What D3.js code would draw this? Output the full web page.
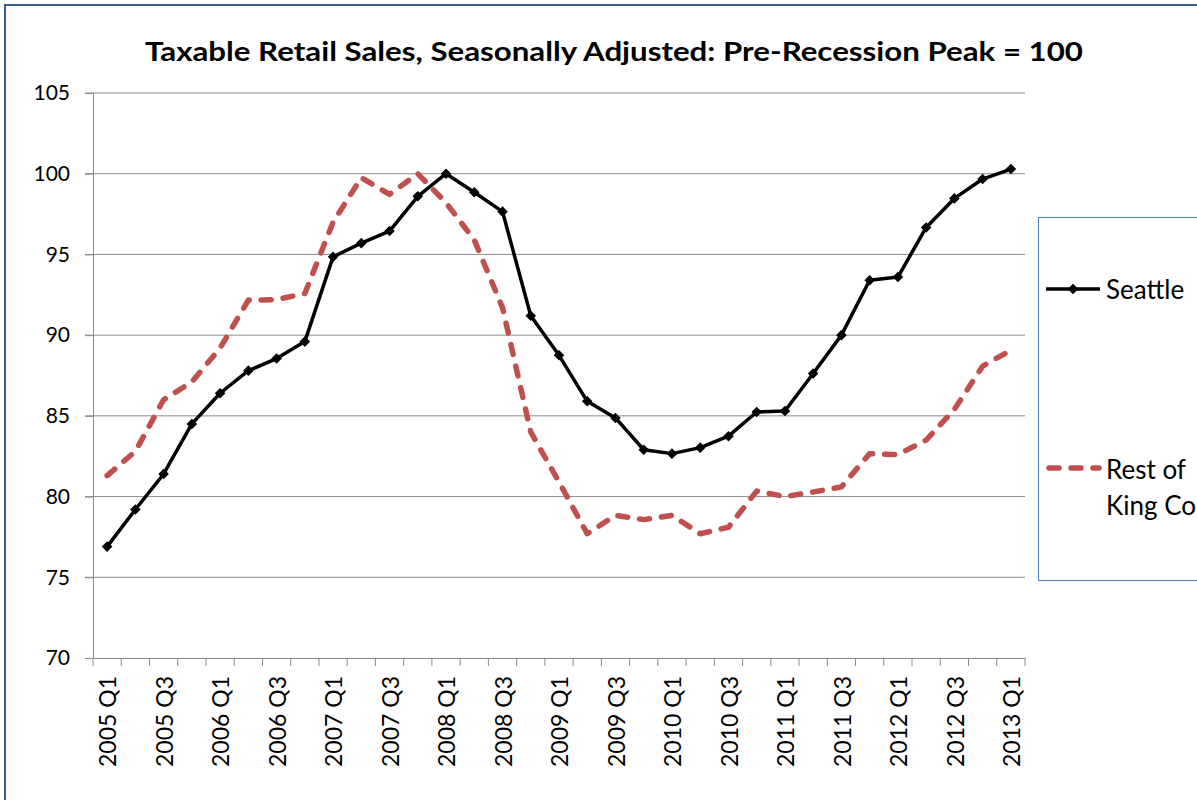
<!DOCTYPE html>
<html>
<head>
<meta charset="utf-8">
<script src="https://cdn.jsdelivr.net/npm/d3@7"></script>
<style>
  html, body { margin: 0; padding: 0; background: #fff; overflow: hidden; }
  svg { display: block; }
</style>
</head>
<body>
<svg id="chart" width="1197" height="800"></svg>
<script>
const quarters = [
  "2005 Q1","2005 Q2","2005 Q3","2005 Q4",
  "2006 Q1","2006 Q2","2006 Q3","2006 Q4",
  "2007 Q1","2007 Q2","2007 Q3","2007 Q4",
  "2008 Q1","2008 Q2","2008 Q3","2008 Q4",
  "2009 Q1","2009 Q2","2009 Q3","2009 Q4",
  "2010 Q1","2010 Q2","2010 Q3","2010 Q4",
  "2011 Q1","2011 Q2","2011 Q3","2011 Q4",
  "2012 Q1","2012 Q2","2012 Q3","2012 Q4",
  "2013 Q1"
];
const seattle = [76.9, 79.2, 81.4, 84.5, 86.4, 87.8, 88.55, 89.6, 94.85, 95.7, 96.45, 98.6,
  100.0, 98.85, 97.65, 91.2, 88.75, 85.9, 84.87, 82.9, 82.66, 83.03, 83.74, 85.24,
  85.3, 87.62, 90.0, 93.4, 93.6, 96.67, 98.47, 99.67, 100.29];
const restOfKing = [81.3, 82.8, 86.0, 87.1, 89.2, 92.17, 92.2, 92.58, 97.0, 99.75, 98.72, 100.0,
  98.2, 95.9, 91.7, 84.0, 80.9, 77.7, 78.84, 78.57, 78.84, 77.7, 78.1, 80.34,
  80.0, 80.28, 80.6, 82.66, 82.6, 83.5, 85.4, 88.08, 89.07];
const yTicks = [70, 75, 80, 85, 90, 95, 100, 105];
const titleText = "Taxable Retail Sales, Seasonally Adjusted: Pre-Recession Peak = 100";
const seriesNames = ["Seattle", ["Rest of", "King County"]];

const svg = d3.select("#chart");
const plotLeft = 93, plotRight = 1025, plotTop = 93, plotBottom = 658;

// chart border
svg.append("path")
  .attr("d", "M5,805 L5,5 L1205,5")
  .attr("fill", "none").attr("stroke", "#3a5f8f").attr("stroke-width", 2);

const x = d3.scaleBand().domain(quarters).range([plotLeft, plotRight]).padding(0);
const y = d3.scaleLinear().domain([70, 105]).range([plotBottom, plotTop]);
const cx = d => x(d) + x.bandwidth() / 2;

// gridlines
svg.append("g").selectAll("line").data(yTicks.filter(t => t !== 70)).join("line")
  .attr("x1", plotLeft - 8).attr("x2", plotRight)
  .attr("y1", d => y(d)).attr("y2", d => y(d))
  .attr("stroke", "#8c8c8c").attr("stroke-width", 1);

// y axis
const yAxis = d3.axisLeft(y).tickValues(yTicks).tickSize(8).tickPadding(15);
const gy = svg.append("g").attr("transform", `translate(${plotLeft},0)`).call(yAxis);
gy.select(".domain").attr("stroke", "#8c8c8c");
gy.selectAll(".tick line").attr("stroke", "#8c8c8c");
gy.selectAll(".tick text")
  .attr("font-family", "Lato, 'Open Sans', sans-serif")
  .attr("font-size", 21).attr("fill", "#000");

// x axis
const xAxis = d3.axisBottom(x).tickSize(0).tickFormat("");
const gx = svg.append("g").attr("transform", `translate(0,${plotBottom})`).call(xAxis);
gx.select(".domain").attr("stroke", "#8c8c8c");
const boundaries = quarters.map(q => x(q)).concat([plotRight]);
svg.append("g").selectAll("line").data(boundaries).join("line")
  .attr("x1", d => d).attr("x2", d => d)
  .attr("y1", plotBottom).attr("y2", plotBottom + 8)
  .attr("stroke", "#8c8c8c").attr("stroke-width", 1);
svg.append("g").selectAll("text").data(quarters.filter((q, i) => i % 2 === 0)).join("text")
  .attr("transform", d => `translate(${cx(d) + 1},676) rotate(-90)`)
  .attr("text-anchor", "end").attr("dy", "0.36em")
  .attr("font-family", "Lato, 'Open Sans', sans-serif")
  .attr("font-size", 23).attr("fill", "#000")
  .text(d => d);

// lines
const line = d3.line().x((d, i) => cx(quarters[i])).y(d => y(d));
svg.append("path").datum(restOfKing)
  .attr("d", line).attr("fill", "none")
  .attr("stroke", "#c0504d").attr("stroke-width", 5.5)
  .attr("stroke-linecap", "round").attr("stroke-linejoin", "round")
  .attr("stroke-dasharray", "10 12");
svg.append("path").datum(seattle)
  .attr("d", line).attr("fill", "none")
  .attr("stroke", "#000").attr("stroke-width", 3.5)
  .attr("stroke-linejoin", "round");
const diamond = d3.symbol().type(d3.symbolSquare).size(56);
svg.append("g").selectAll("path").data(seattle).join("path")
  .attr("transform", (d, i) => `translate(${cx(quarters[i])},${y(d)}) rotate(45)`)
  .attr("d", diamond).attr("fill", "#000");

// title
svg.append("text")
  .attr("x", 614).attr("y", 61).attr("text-anchor", "middle")
  .attr("font-family", "Lato, 'Open Sans', sans-serif")
  .attr("font-weight", "bold").attr("font-size", 27)
  .attr("textLength", 938).attr("lengthAdjust", "spacingAndGlyphs")
  .attr("fill", "#000")
  .text(titleText);

// legend
const lg = svg.append("g");
lg.append("rect").attr("x", 1038.5).attr("y", 217.5).attr("width", 300).attr("height", 363)
  .attr("fill", "#fff").attr("stroke", "#4f81bd").attr("stroke-width", 1);
lg.append("line").attr("x1", 1046).attr("x2", 1100).attr("y1", 289).attr("y2", 289)
  .attr("stroke", "#000").attr("stroke-width", 3.5);
lg.append("path").attr("transform", "translate(1073,289) rotate(45)").attr("d", diamond).attr("fill", "#000");
lg.append("text").attr("x", 1106).attr("y", 299)
  .attr("font-family", "Lato, 'Open Sans', sans-serif").attr("font-size", 26)
  .attr("fill", "#000").text(seriesNames[0]);
lg.append("line").attr("x1", 1049).attr("x2", 1099).attr("y1", 468).attr("y2", 468)
  .attr("stroke", "#c0504d").attr("stroke-width", 5.5)
  .attr("stroke-linecap", "round").attr("stroke-dasharray", "10 12");
const t2 = lg.append("text")
  .attr("font-family", "Lato, 'Open Sans', sans-serif").attr("font-size", 26).attr("fill", "#000");
t2.selectAll("tspan").data(seriesNames[1]).join("tspan")
  .attr("x", 1106).attr("y", (d, i) => 479 + i * 36).text(d => d);
</script>
</body>
</html>
